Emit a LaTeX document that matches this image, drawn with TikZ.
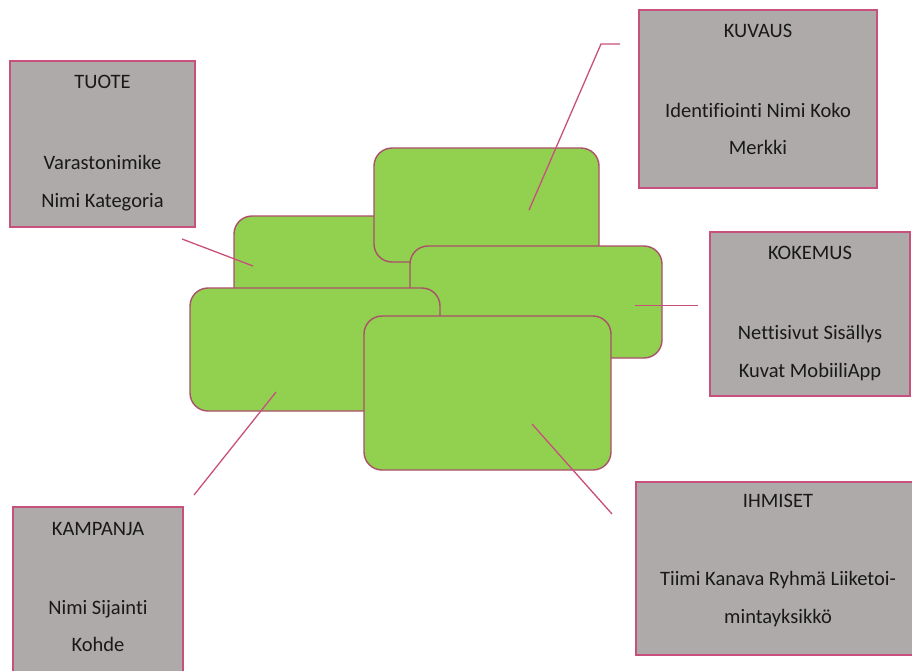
\documentclass[tikz,border=0pt]{standalone}
\usepackage{fontspec}
\setmainfont{Carlito}[Ligatures=NoCommon]
\definecolor{gfill}{RGB}{146,208,80}
\definecolor{gline}{RGB}{170,80,105}
\definecolor{pline}{RGB}{200,80,125}
\definecolor{grayfill}{RGB}{174,170,169}
\definecolor{txt}{RGB}{25,25,25}
\begin{document}
\begin{tikzpicture}[x=1pt,y=-1pt,
  gbox/.style={draw=gline, fill=gfill, line width=1.4pt, rounded corners=18pt, inner sep=0pt},
  graybox/.style={draw=pline, fill=grayfill, line width=1.8pt, inner sep=0pt},
  lbl/.style={anchor=base, inner sep=0pt, text=txt, font=\fontsize{20.5}{24}\selectfont},
  conn/.style={draw=pline, line width=1.3pt}]
\useasboundingbox (0,0) rectangle (912,670);
% green boxes
\node[gbox, minimum width=225pt, minimum height=114pt] (gB) at (346.5,273) {};
\node[gbox, minimum width=225pt, minimum height=114pt] (gA) at (486.5,205) {};
\node[gbox, minimum width=252pt, minimum height=112pt] (gC) at (536,302) {};
\node[gbox, minimum width=250pt, minimum height=123pt] (gD) at (315,349.5) {};
\node[gbox, minimum width=247pt, minimum height=154pt] (gE) at (487.5,393) {};
% gray boxes
\node[graybox, minimum width=185pt, minimum height=166pt] (tuote) at (102.5,144) {};
\node[graybox, minimum width=238pt, minimum height=178pt] (kuvaus) at (758,99) {};
\node[graybox, minimum width=200pt, minimum height=164pt] (kokemus) at (810,314) {};
\node[graybox, minimum width=170pt, minimum height=173pt] (kampanja) at (98,593.5) {};
\node[graybox, minimum width=284pt, minimum height=173pt] (ihmiset) at (778,568.5) {};
% texts
\node[lbl] (t1) at (102.5,88.5) {TUOTE};
\node[lbl] (t2) at (102.5,169) {Varastonimike};
\node[lbl] (t3) at (102.5,207) {Nimi Kategoria};
\node[lbl] (k1) at (758,37) {KUVAUS};
\node[lbl] (k2) at (758,117) {Identifiointi Nimi Koko};
\node[lbl] (k3) at (758,154) {Merkki};
\node[lbl] (e1) at (810,259) {KOKEMUS};
\node[lbl] (e2) at (810,339) {Nettisivut Sisällys};
\node[lbl] (e3) at (810,377) {Kuvat MobiiliApp};
\node[lbl] (m1) at (98,535) {KAMPANJA};
\node[lbl] (m2) at (98,614) {Nimi Sijainti};
\node[lbl] (m3) at (98,651) {Kohde};
\node[lbl] (h1) at (778,507) {IHMISET};
\node[lbl] (h2) at (778,585) {Tiimi Kanava Ryhmä Liiketoi-};
\node[lbl] (h3) at (778,623) {mintayksikkö};
% connector end points
\coordinate (pB) at (253,266);
\coordinate (qB) at (182,239);
\coordinate (pA) at (529,210);
\coordinate (bA) at (601,44);
\coordinate (qA) at (620,44);
\coordinate (pC) at (635,305.5);
\coordinate (qC) at (698,305.5);
\coordinate (pD) at (276,392);
\coordinate (qD) at (194,495);
\coordinate (pE) at (532,424);
\coordinate (qE) at (612,514);
\draw[conn] (pB) -- (qB);
\draw[conn] (pA) -- (bA) -- (qA);
\draw[conn] (pC) -- (qC);
\draw[conn] (pD) -- (qD);
\draw[conn] (pE) -- (qE);
\end{tikzpicture}
\end{document}
